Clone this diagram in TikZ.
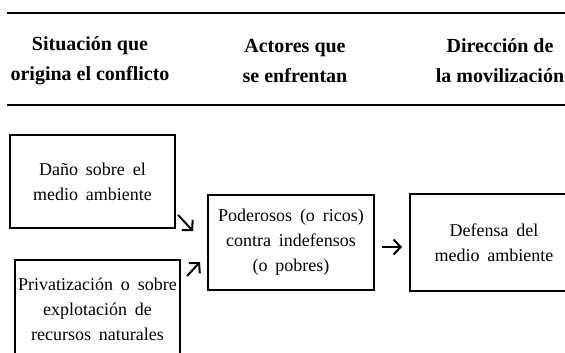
\documentclass[tikz,border=0pt]{standalone}
\usepackage{fontspec}
\setmainfont{Liberation Serif}
\newfontfamily\bodyfont{Liberation Serif}[WordSpace=1.75]
\usetikzlibrary{arrows.meta}
\begin{document}
\begin{tikzpicture}[x=1pt,y=-1pt,
  rule/.style={line width=2.2pt},
  hdr/.style={font=\bfseries\fontsize{20}{30}\selectfont, align=center, inner sep=0pt},
  box/.style={draw, line width=2pt, font=\bodyfont\fontsize{18}{25}\selectfont, align=center, inner sep=0pt},
  arr/.style={line width=2pt, -{Straight Barb[length=7pt,width=15pt]}}]
\useasboundingbox (0,0) rectangle (565,353);
\clip (0,0) rectangle (565,353);
% header rules
\draw[rule] (7,13) -- (570,13);
\draw[rule] (7,105) -- (570,105);
% header
\node[hdr] (h1) at (90,61) {Situación que\\origina el conflicto};
\node[hdr] (h2) at (295,61) {Actores que\\se enfrentan};
\node[hdr] (h3) at (500,61) {Dirección de\\la movilización};
% boxes
\node[box, minimum width=165pt, minimum height=93pt] (b1) at (92.5,181.5) {Daño sobre el\\medio ambiente};
\node[box, minimum width=165pt, minimum height=98pt] (b2) at (97.5,309) {Privatización o sobre\\explotación de\\recursos naturales};
\node[box, minimum width=166pt, minimum height=95pt] (b3) at (291,242.5) {Poderosos (o ricos)\\contra indefensos\\(o pobres)};
\node[box, minimum width=168pt, minimum height=97pt] (b4) at (494,242.5) {Defensa del\\medio ambiente};
% arrows
\coordinate (a1s) at (178,215);
\coordinate (a1e) at (193,231);
\coordinate (a2s) at (187,276);
\coordinate (a2e) at (200,262);
\coordinate (a3s) at (382,247);
\coordinate (a3e) at (402,247);
\draw[arr] (a1s) -- (a1e);
\draw[arr] (a2s) -- (a2e);
\draw[arr] (a3s) -- (a3e);
\end{tikzpicture}
\end{document}
